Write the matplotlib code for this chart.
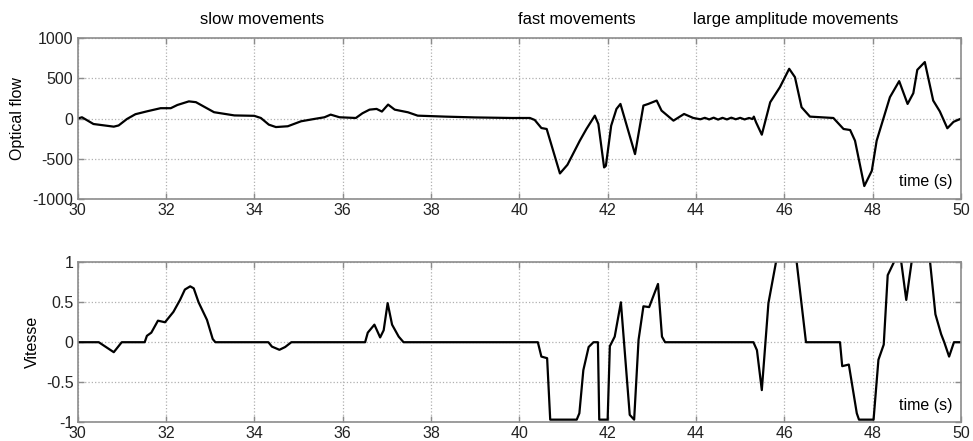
import matplotlib
matplotlib.use("Agg")
import matplotlib.pyplot as plt

plt.rcParams['font.family'] = ['Liberation Sans', 'DejaVu Sans']
plt.rcParams['axes.unicode_minus'] = False

# optical flow (top panel)
t_flow = [30.0, 30.1, 30.36, 30.82, 30.93, 31.12, 31.31, 31.58, 31.88, 32.11,
          32.26, 32.52, 32.68, 32.86, 33.09, 33.55, 34.0, 34.15, 34.33, 34.49,
          34.76, 35.06, 35.36, 35.59, 35.73, 35.93, 36.3, 36.45, 36.61, 36.77,
          36.89, 37.03, 37.18, 37.48, 37.7, 38.32, 39.0, 39.83, 40.24, 40.35,
          40.5, 40.62, 40.92, 41.09, 41.37, 41.52, 41.71, 41.79, 41.92, 41.96,
          42.08, 42.2, 42.29, 42.62, 42.81, 42.92, 43.11, 43.22, 43.49, 43.73,
          43.94, 44.1, 44.2, 44.3, 44.4, 44.5, 44.6, 44.7, 44.8, 44.9,
          45.0, 45.1, 45.2, 45.28, 45.31, 45.36, 45.49, 45.68, 45.9, 46.11,
          46.24, 46.39, 46.58, 47.11, 47.34, 47.49, 47.6, 47.81, 47.98, 48.09,
          48.39, 48.6, 48.79, 48.92, 49.01, 49.18, 49.37, 49.52, 49.69, 49.83,
          50.0]
flow = [0, 17, -67, -100, -85, -4, 55, 92, 130, 130,
        170, 215, 205, 150, 80, 40, 35, 8, -75, -105,
        -95, -33, -4, 17, 50, 17, 8, 67, 112, 121,
        88, 175, 112, 79, 37, 25, 15, 8, 8, -17,
        -117, -129, -683, -575, -275, -129, 37, -67, -608, -588,
        -88, 121, 183, -442, 163, 183, 225, 100, -25, 58,
        8, -8, 10, -10, 12, -12, 10, -10, 12, -8,
        10, -10, 8, -5, 25, -46, -200, 204, 392, 621,
        517, 142, 25, 8, -129, -142, -275, -840, -650, -275,
        267, 467, 183, 317, 608, 705, 225, 90, -120, -40,
        0]

# vitesse (bottom panel)
t_vit = [30.0, 30.48, 30.82, 31.0, 31.52, 31.57, 31.67, 31.82, 31.98, 32.17,
         32.32, 32.43, 32.55, 32.63, 32.74, 32.93, 33.06, 33.12, 34.32, 34.4,
         34.57, 34.7, 34.84, 36.51, 36.57, 36.72, 36.85, 36.93, 37.02, 37.12,
         37.27, 37.38, 40.42, 40.5, 40.63, 40.7, 41.3, 41.36, 41.45, 41.57,
         41.68, 41.78, 41.81, 42.0, 42.05, 42.16, 42.3, 42.5, 42.6, 42.7,
         42.81, 42.94, 43.14, 43.23, 43.3, 45.3, 45.38, 45.49, 45.64, 45.81,
         46.05, 46.28, 46.49, 47.26, 47.31, 47.46, 47.64, 47.69, 48.02, 48.13,
         48.25, 48.34, 48.47, 48.6, 48.76, 48.88, 49.1, 49.3, 49.42, 49.55,
         49.62, 49.73, 49.84, 50.0]
vit = [0, 0, -0.125, 0, 0, 0.08, 0.12, 0.27, 0.25, 0.38,
       0.53, 0.66, 0.70, 0.675, 0.5, 0.28, 0.04, 0, 0, -0.055,
       -0.095, -0.06, 0, 0, 0.12, 0.22, 0.06, 0.15, 0.49, 0.22,
       0.07, 0, 0, -0.18, -0.2, -0.97, -0.97, -0.89, -0.35, -0.06,
       0, 0, -0.97, -0.97, -0.05, 0.07, 0.5, -0.91, -0.97, 0.03,
       0.45, 0.44, 0.73, 0.07, 0, 0, -0.1, -0.6, 0.49, 1.0,
       1.5, 1.0, 0, 0, -0.3, -0.28, -0.89, -0.97, -0.97, -0.22,
       -0.03, 0.84, 0.99, 1.2, 0.53, 1.0, 1.6, 1.0, 0.35, 0.1,
       0, -0.18, 0, 0]

x_ticks = list(range(30, 51, 2))
flow_ticks = [-1000, -500, 0, 500, 1000]
vit_ticks = [-1, -0.5, 0, 0.5, 1]
vit_labels = ['-1', '-0.5', '0', '0.5', '1']

frame_col = '#8c8c8c'
fs = 11.5

fig = plt.figure(figsize=(9.73, 4.41), dpi=100)
ax1 = fig.add_axes([0.0797, 0.549, 0.9080, 0.364])
ax2 = fig.add_axes([0.0797, 0.043, 0.9080, 0.362])


def style(ax):
    for s in ax.spines.values():
        s.set_color(frame_col)
        s.set_linewidth(1.2)
    ax.tick_params(direction='in', length=4, width=1, color=frame_col,
                   top=True, right=True, labelsize=fs, labelcolor='#222222', pad=3)
    ax.grid(True, linestyle=':', color='#b0b0b0', linewidth=0.9)
    ax.set_xlim(30, 50)
    ax.set_xticks(x_ticks)


ax1.plot(t_flow, flow, color='black', linewidth=1.6)
style(ax1)
ax1.set_ylim(-1000, 1000)
ax1.set_yticks(flow_ticks)
ax1.set_ylabel('Optical flow', fontsize=fs)
ax1.yaxis.set_label_coords(-0.059, 0.5)
ax1.text(0.99, 0.106, 'time (s)', transform=ax1.transAxes, ha='right', va='center', fontsize=fs)

ax2.plot(t_vit, vit, color='black', linewidth=1.6)
style(ax2)
ax2.set_ylim(-1, 1)
ax2.set_yticks(vit_ticks)
ax2.set_yticklabels(vit_labels)
ax2.set_ylabel('Vitesse', fontsize=fs)
ax2.yaxis.set_label_coords(-0.043, 0.5)
ax2.text(0.99, 0.106, 'time (s)', transform=ax2.transAxes, ha='right', va='center', fontsize=fs)

fig.text(0.269, 0.955, 'slow movements', ha='center', va='center', fontsize=12)
fig.text(0.593, 0.955, 'fast movements', ha='center', va='center', fontsize=12)
fig.text(0.818, 0.955, 'large amplitude movements', ha='center', va='center', fontsize=12)

fig.savefig('out.png', dpi=100)
